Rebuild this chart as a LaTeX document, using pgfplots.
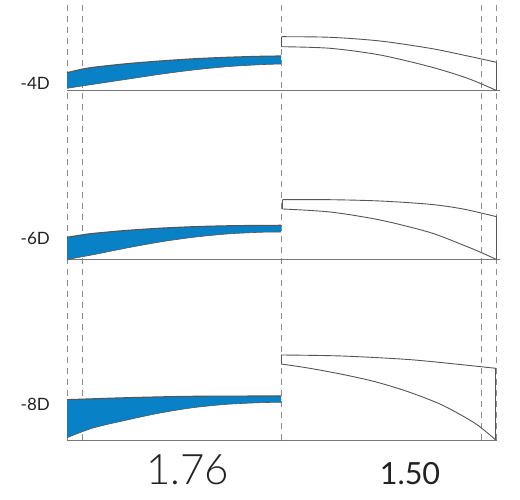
\documentclass[border=0pt]{standalone}
\usepackage{pgfplots}
\pgfplotsset{compat=1.18}
\usepgfplotslibrary{fillbetween}
\usepackage{fontspec}
\setmainfont{Lato}
\newfontfamily\latolight{Lato Light}
\definecolor{lensblue}{RGB}{8,129,199}
\definecolor{outline}{RGB}{85,85,85}
\definecolor{dashgray}{RGB}{140,140,140}
\definecolor{basegray}{RGB}{120,120,120}
\definecolor{txt}{RGB}{34,34,34}
\begin{document}
\begin{tikzpicture}
\begin{axis}[width=520pt,height=500pt,scale only axis,
  xmin=0,xmax=520,ymin=0,ymax=500,y dir=reverse,
  hide axis, clip=false, set layers]
\path (axis cs:0,0) rectangle (axis cs:520,500);
% dashed guide lines
\pgfplotsset{guide/.style={dashgray, line width=1pt, dash pattern=on 6pt off 5pt, on layer=axis background}}
\addplot[guide] coordinates {(67,5) (67,445)};
\addplot[guide] coordinates {(82,5) (82,445)};
\addplot[guide] coordinates {(281,5) (281,445)};
\addplot[guide] coordinates {(481,5) (481,445)};
\addplot[guide] coordinates {(496.5,5) (496.5,445)};
% baselines
\addplot[basegray, line width=1.2pt] coordinates {(67,90.7) (500,90.7)};
\addplot[basegray, line width=1.2pt] coordinates {(67,259.7) (500,259.7)};
\addplot[basegray, line width=1.2pt] coordinates {(67,440.7) (497,440.7)};

\pgfplotsset{lens/.style={outline, line width=0.9pt, smooth}}
% ---- -4D ----
\addplot[lens, line width=1.1pt, name path=b4t] coordinates {(67,72.7) (80,69.6) (93.3,67.3) (126.7,63.7) (160,61) (193.3,58.8) (226.7,57.3) (260,56.3) (281,56)};
\addplot[lens, line width=0.6pt, name path=b4b] coordinates {(67,88.3) (93.3,84.3) (126.7,79.3) (160,74.3) (193.3,70) (226.7,66.7) (260,64.7) (281,64)};
\addplot[lensblue] fill between[of=b4t and b4b];
\addplot[lens] coordinates {(281.5,36.7) (330,37.3) (380,41) (430,48.3) (463,55) (496.5,62.3)};
\addplot[lens] coordinates {(281.5,46.7) (330,48.3) (380,55) (430,66.7) (463,76.7) (480,83.3) (496.5,90.5)};
\addplot[outline, line width=0.9pt] coordinates {(281.5,36.7) (281.5,46.7)};
\addplot[outline, line width=0.9pt] coordinates {(496.5,62.3) (496.5,90.5)};
% ---- -6D ----
\addplot[lens, line width=1.1pt, name path=b6t] coordinates {(67,237.3) (80,235.2) (93.3,233.4) (126.7,230.4) (160,228.2) (193.3,226.7) (226.7,225.8) (260,225.4) (281,225.3)};
\addplot[lens, line width=0.6pt, name path=b6b] coordinates {(67,259.5) (93.3,254.7) (126.7,248) (160,242) (193.3,237.3) (226.7,234) (260,232.3) (281,232)};
\addplot[lensblue] fill between[of=b6t and b6b];
\addplot[lens] coordinates {(282.5,199.7) (330,199.7) (380,201) (430,204.3) (463,209) (496.5,216.7)};
\addplot[lens] coordinates {(282.5,209) (330,212) (380,220) (430,232.5) (463,245) (480,252) (496.5,259.5)};
\addplot[outline, line width=0.9pt] coordinates {(282.5,199.7) (282.5,209)};
\addplot[outline, line width=0.9pt] coordinates {(496.5,216.7) (496.5,259.5)};
% ---- -8D ----
\addplot[lens, line width=1.1pt, name path=b8t] coordinates {(67,399.7) (127,397.7) (193,396.3) (281,396)};
\addplot[lens, line width=0.6pt, name path=b8b] coordinates {(67,437.7) (93,428) (127,420) (160,413) (193,407.7) (227,404.3) (260,402.7) (281,402.3)};
\addplot[lensblue] fill between[of=b8t and b8b];
\addplot[lens] coordinates {(281,355) (342,356) (408,359.5) (458,364.3) (495.7,368.3)};
\addplot[lens] coordinates {(281,364) (308,368) (342,374.3) (375,381.7) (408,391.7) (442,405) (475,423.3) (495.7,440)};
\addplot[outline, line width=0.9pt] coordinates {(281,355) (281,364)};
\addplot[outline, line width=0.9pt] coordinates {(495.7,368.3) (495.7,440)};
% labels
\node[anchor=base east, txt, font=\fontsize{17}{17}\selectfont, inner sep=0pt] at (axis cs:50,89.5) {-4D};
\node[anchor=base east, txt, font=\fontsize{17}{17}\selectfont, inner sep=0pt] at (axis cs:50,245) {-6D};
\node[anchor=base east, txt, font=\fontsize{17}{17}\selectfont, inner sep=0pt] at (axis cs:50,410.5) {-8D};
\node[anchor=base, txt, font=\latolight\fontsize{42}{42}\selectfont, inner sep=0pt] at (axis cs:187.5,485) {1.76};
\node[anchor=base, txt, font=\fontsize{30.5}{30.5}\selectfont, inner sep=0pt] at (axis cs:410,485) {1.50};
\end{axis}
\end{tikzpicture}
\end{document}
